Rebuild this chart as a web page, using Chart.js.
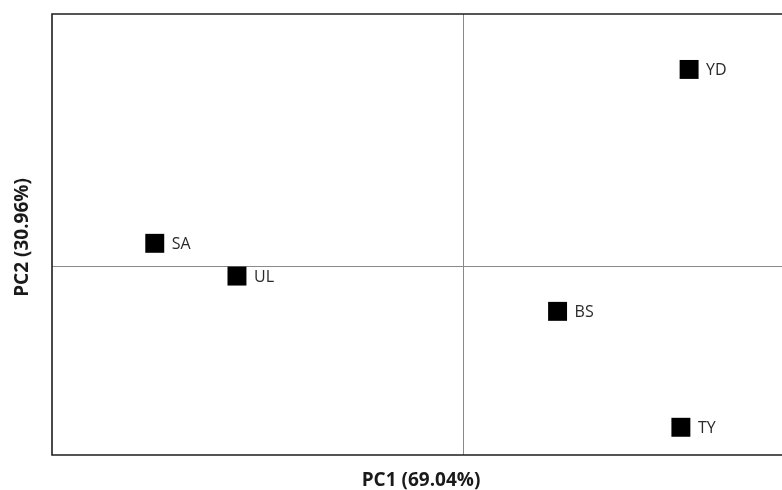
<!DOCTYPE html>
<html>
<head>
<meta charset="utf-8">
<script src="https://cdn.jsdelivr.net/npm/chart.js@4.4.1/dist/chart.umd.min.js"></script>
<style>
  html, body { margin: 0; padding: 0; background: #ffffff; overflow: hidden; }
  #wrap { width: 782px; height: 490px; }
</style>
</head>
<body>
<div id="wrap"><canvas id="pca" width="782" height="490"></canvas></div>
<script>
// PCA scores of the five samples
const sampleNames = ['SA', 'UL', 'BS', 'YD', 'TY'];
const pc1Scores = [-0.75, -0.55, 0.23, 0.55, 0.53];
const pc2Scores = [0.09, -0.04, -0.18, 0.78, -0.64];
const pc1Title = 'PC1 (69.04%)';
const pc2Title = 'PC2 (30.96%)';

const points = sampleNames.map((name, i) => ({ x: pc1Scores[i], y: pc2Scores[i], label: name }));

// Frame, zero lines, axis titles and sample labels
const pcaDecor = {
  id: 'pcaDecor',
  beforeDatasetsDraw(chart) {
    const { ctx, chartArea: a, scales: { x, y } } = chart;
    const x0 = x.getPixelForValue(0);
    const y0 = y.getPixelForValue(0);
    ctx.save();
    ctx.strokeStyle = '#8a8a8a';
    ctx.lineWidth = 1;
    ctx.beginPath();
    ctx.moveTo(Math.round(x0) + 0.5, a.top);
    ctx.lineTo(Math.round(x0) + 0.5, a.bottom);
    ctx.moveTo(a.left, Math.round(y0) + 0.5);
    ctx.lineTo(a.right, Math.round(y0) + 0.5);
    ctx.stroke();

    ctx.strokeStyle = '#1e1e1e';
    ctx.lineWidth = 1.6;
    ctx.beginPath();
    ctx.moveTo(a.right, a.top);
    ctx.lineTo(a.left, a.top);
    ctx.lineTo(a.left, a.bottom);
    ctx.lineTo(a.right, a.bottom);
    ctx.stroke();
    ctx.restore();
  },
  afterDatasetsDraw(chart) {
    const { ctx, chartArea: a } = chart;
    const meta = chart.getDatasetMeta(0);
    ctx.save();
    ctx.fillStyle = '#2a2a2a';
    ctx.font = '16px "Open Sans", sans-serif';
    ctx.textAlign = 'left';
    ctx.textBaseline = 'middle';
    meta.data.forEach((el, i) => {
      ctx.fillText(points[i].label, el.x + 17, el.y + 1);
    });

    ctx.fillStyle = '#1a1a1a';
    ctx.font = 'bold 19px "Open Sans", sans-serif';
    ctx.textAlign = 'center';
    ctx.fillText(pc1Title, (a.left + a.right) / 2 + 4, a.bottom + 26);
    ctx.translate(23, (a.top + a.bottom) / 2 + 3);
    ctx.rotate(-Math.PI / 2);
    ctx.fillText(pc2Title, 0, 0);
    ctx.restore();
  }
};

new Chart(document.getElementById('pca'), {
  type: 'scatter',
  data: {
    datasets: [{
      data: points,
      pointStyle: 'rect',
      pointRadius: 13.4,
      pointHoverRadius: 13.4,
      backgroundColor: '#000000',
      borderWidth: 0
    }]
  },
  options: {
    responsive: false,
    animation: false,
    layout: { autoPadding: false, padding: { left: 52, top: 14, right: 0, bottom: 35 } },
    plugins: { legend: { display: false }, tooltip: { enabled: false } },
    scales: {
      x: { type: 'linear', display: false, min: -1, max: 0.776 },
      y: { type: 'linear', display: false, min: -0.75, max: 1 }
    }
  },
  plugins: [pcaDecor]
});
</script>
</body>
</html>
